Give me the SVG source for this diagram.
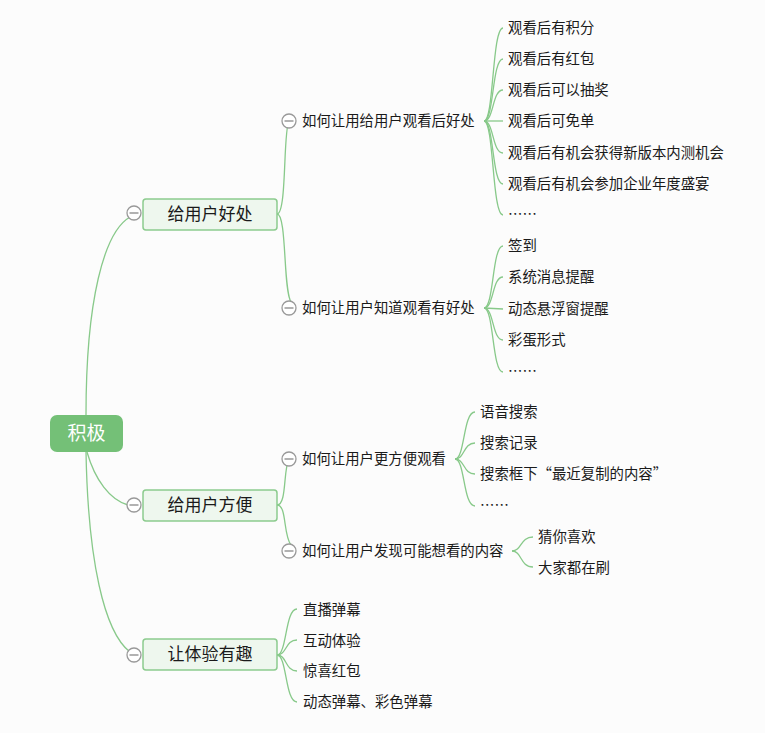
<svg xmlns="http://www.w3.org/2000/svg" width="765" height="733" viewBox="0 0 765 733">
<style>
.ln{fill:none;stroke:#88c98a;stroke-width:1.3}
.t{font-family:"Noto Sans CJK SC","Noto Sans",sans-serif;font-size:14.4px;fill:#1a1a1a}
.bt{font-family:"Noto Sans CJK SC","Noto Sans",sans-serif;font-size:17px;fill:#1a1a1a}
.box{fill:#eef7ee;stroke:#8ccb8e;stroke-width:1.5}
.cc{fill:#fff;stroke:#999;stroke-width:1.3}
</style>
<defs>
<g id="col"><circle r="7" class="cc"/><line x1="-4.5" y1="0" x2="4.5" y2="0" stroke="#888" stroke-width="1.3"/></g>
</defs>
<rect width="765" height="733" fill="#fcfcfc"/>
<g id="connectors">
<path class="ln" d="M86,415 C86,300 104,232 130,217"/>
<path class="ln" d="M87,452 C95,480 110,500 128,505"/>
<path class="ln" d="M86,452 C88,560 104,632 130,652"/>
<path class="ln" d="M277,214 C287,214 283,130 289,121"/>
<path class="ln" d="M277,214 C287,214 283,290 291,302"/>
<path class="ln" d="M277,505 C287,505 283,470 289,459"/>
<path class="ln" d="M277,505 C287,505 283,535 291,545"/>
<path class="ln" d="M484,121 C494,121 492,28 503,28"/>
<path class="ln" d="M484,121 C494,121 492,59 503,59"/>
<path class="ln" d="M484,121 C494,121 492,90 503,90"/>
<path class="ln" d="M484,121 L503,121"/>
<path class="ln" d="M484,121 C494,121 492,153 503,153"/>
<path class="ln" d="M484,121 C494,121 492,184 503,184"/>
<path class="ln" d="M484,121 C494,121 492,215 503,215"/>
<path class="ln" d="M484,308 C494,308 492,246 503,246"/>
<path class="ln" d="M484,308 C494,308 492,277 503,277"/>
<path class="ln" d="M484,308 L503,309"/>
<path class="ln" d="M484,308 C494,308 492,340 503,340"/>
<path class="ln" d="M484,308 C494,308 492,372 503,372"/>
<path class="ln" d="M455,459 C465,459 463,412 475,412"/>
<path class="ln" d="M455,459 C465,459 463,443 475,443"/>
<path class="ln" d="M455,459 C465,459 463,474 475,474"/>
<path class="ln" d="M455,459 C465,459 463,506 475,506"/>
<path class="ln" d="M512,551 C522,551 520,537 533,537"/>
<path class="ln" d="M512,551 C522,551 520,567 533,567"/>
<path class="ln" d="M277,655 C287,655 285,609 297,609"/>
<path class="ln" d="M277,655 C287,655 285,640 297,640"/>
<path class="ln" d="M277,655 C287,655 285,671 297,671"/>
<path class="ln" d="M277,655 C287,655 285,702 297,702"/>
</g>
<g id="root">
<rect x="50" y="415" width="73" height="37" rx="7" fill="#74c077"/>
<text x="86.5" y="440" text-anchor="middle" font-family="Noto Sans CJK SC,sans-serif" font-size="19" fill="#fff">积极</text>
</g>
<g id="b1">
<rect class="box" x="143" y="199" width="134" height="31" rx="3"/>
<text class="bt" x="210" y="220" text-anchor="middle">给用户好处</text>
<use href="#col" x="134" y="213"/>
</g>
<g id="b2">
<rect class="box" x="143" y="490" width="134" height="31" rx="3"/>
<text class="bt" x="210" y="511" text-anchor="middle">给用户方便</text>
<use href="#col" x="134" y="505"/>
</g>
<g id="b3">
<rect class="box" x="143" y="639" width="134" height="31" rx="3"/>
<text class="bt" x="210" y="660" text-anchor="middle">让体验有趣</text>
<use href="#col" x="134" y="655"/>
</g>
<g id="s1"><use href="#col" x="289" y="121"/><text class="t" x="302" y="126">如何让用给用户观看后好处</text></g>
<g id="s2"><use href="#col" x="289" y="308"/><text class="t" x="302" y="313">如何让用户知道观看有好处</text></g>
<g id="s3"><use href="#col" x="289" y="459"/><text class="t" x="302" y="464">如何让用户更方便观看</text></g>
<g id="s4"><use href="#col" x="289" y="551"/><text class="t" x="302" y="556">如何让用户发现可能想看的内容</text></g>
<g id="leaves1">
<text class="t" x="508" y="33">观看后有积分</text>
<text class="t" x="508" y="64">观看后有红包</text>
<text class="t" x="508" y="95">观看后可以抽奖</text>
<text class="t" x="508" y="126">观看后可免单</text>
<text class="t" x="508" y="158">观看后有机会获得新版本内测机会</text>
<text class="t" x="508" y="189">观看后有机会参加企业年度盛宴</text>
<text class="t" x="508" y="220" fill="#1a3a8a">……</text>
</g>
<g id="leaves2">
<text class="t" x="508" y="251">签到</text>
<text class="t" x="508" y="282">系统消息提醒</text>
<text class="t" x="508" y="314">动态悬浮窗提醒</text>
<text class="t" x="508" y="345">彩蛋形式</text>
<text class="t" x="508" y="377" fill="#1a3a8a">……</text>
</g>
<g id="leaves3">
<text class="t" x="480" y="417">语音搜索</text>
<text class="t" x="480" y="448">搜索记录</text>
<text class="t" x="480" y="479">搜索框下“最近复制的内容”</text>
<text class="t" x="480" y="511">……</text>
</g>
<g id="leaves4">
<text class="t" x="538" y="542">猜你喜欢</text>
<text class="t" x="538" y="573">大家都在刷</text>
</g>
<g id="leaves5">
<text class="t" x="303" y="615">直播弹幕</text>
<text class="t" x="303" y="646">互动体验</text>
<text class="t" x="303" y="676">惊喜红包</text>
<text class="t" x="303" y="707">动态弹幕、彩色弹幕</text>
</g>
</svg>
